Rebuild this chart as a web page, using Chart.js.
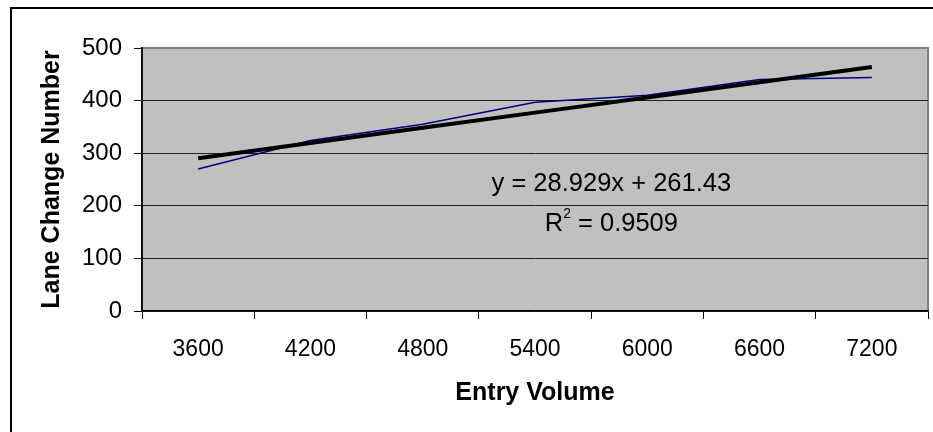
<!DOCTYPE html>
<html>
<head>
<meta charset="utf-8">
<title>Lane Change Number vs Entry Volume</title>
<script src="https://cdn.jsdelivr.net/npm/chart.js@4"></script>
<style>
  html, body { margin: 0; padding: 0; background: #fff; }
  #wrap { position: relative; width: 933px; height: 432px; }
</style>
</head>
<body>
<div id="wrap"><canvas id="laneChart"></canvas></div>
<script>
// ── data ──────────────────────────────────────────────
const entryVolumes = ["3600", "4200", "4800", "5400", "6000", "6600", "7200"];
const laneChanges  = [270, 324, 355, 397, 410, 440, 444];
// linear trendline, as shown by the equation label
const trendValues  = [290.36, 319.29, 348.22, 377.15, 406.08, 435.01, 463.93];
const equationText = "y = 28.929x + 261.43";
const rSquaredText = "0.9509";

const FONT = "'Liberation Sans', Arial, sans-serif";

// grey plot area + outer frame, Excel style
const plotFrame = {
  id: "plotFrame",
  beforeDraw(chart) {
    const { ctx, chartArea: a } = chart;
    ctx.save();
    ctx.fillStyle = "#fff";
    ctx.fillRect(0, 0, chart.width, chart.height);
    ctx.strokeStyle = "#000";
    ctx.lineWidth = 2;
    ctx.strokeRect(11, 8, chart.width + 20, chart.height + 20);
    ctx.fillStyle = "#c0c0c0";
    ctx.fillRect(a.left, a.top, a.right - a.left, a.bottom - a.top);
    ctx.strokeStyle = "#808080";
    ctx.lineWidth = 2;
    ctx.beginPath();
    ctx.moveTo(a.left, a.top);
    ctx.lineTo(a.right, a.top);
    ctx.lineTo(a.right, a.bottom);
    ctx.stroke();
    ctx.restore();
  },
};

// trendline equation label
const trendLabel = {
  id: "trendLabel",
  afterDatasetsDraw(chart) {
    const { ctx, scales: { x, y } } = chart;
    const big = `25.5px ${FONT}`;
    const sup = `14px ${FONT}`;
    const cx = x.getPixelForValue(3.68);
    const y1 = y.getPixelForValue(241);
    const y2 = y.getPixelForValue(165);
    ctx.save();
    ctx.fillStyle = "#000";
    ctx.textBaseline = "middle";
    ctx.font = big;
    ctx.textAlign = "center";
    ctx.fillText(equationText, cx, y1);

    const rest = " = " + rSquaredText;
    ctx.textAlign = "left";
    const wR = ctx.measureText("R").width;
    const wRest = ctx.measureText(rest).width;
    ctx.font = sup;
    const wSup = ctx.measureText("2").width;
    const sx = cx - (wR + wSup + wRest) / 2;
    ctx.font = big;
    ctx.fillText("R", sx, y2);
    ctx.font = sup;
    ctx.fillText("2", sx + wR, y2 - 10);
    ctx.font = big;
    ctx.fillText(rest, sx + wR + wSup, y2);
    ctx.restore();
  },
};

new Chart(document.getElementById("laneChart").getContext("2d"), {
  type: "line",
  data: {
    labels: entryVolumes,
    datasets: [
      {
        label: "Linear trend",
        data: trendValues,
        borderColor: "#000",
        borderWidth: 4,
        pointRadius: 0,
        tension: 0,
        fill: false,
      },
      {
        label: "Lane Change Number",
        data: laneChanges,
        borderColor: "#000080",
        borderWidth: 1.5,
        pointRadius: 0,
        tension: 0,
        fill: false,
      },
    ],
  },
  options: {
    responsive: true,
    maintainAspectRatio: false,
    animation: false,
    layout: { padding: { top: 48, right: 5, bottom: 0, left: 0 } },
    plugins: {
      legend: { display: false },
      tooltip: { enabled: false },
    },
    scales: {
      x: {
        offset: true,
        afterFit: s => { s.height = 121; },
        border: { color: "#000", width: 1.5 },
        grid: {
          offset: true,
          drawOnChartArea: false,
          drawTicks: true,
          tickLength: 8,
          tickColor: "#000",
        },
        ticks: {
          color: "#000",
          padding: 17,
          maxRotation: 0,
          font: { family: FONT, size: 23 },
        },
        title: {
          display: true,
          text: "Entry Volume",
          color: "#000",
          padding: { top: 0, bottom: 24 },
          font: { family: FONT, size: 25, weight: "bold" },
        },
      },
      y: {
        min: 0,
        max: 500,
        afterFit: s => { s.width = 142; },
        border: { color: "#111", width: 2 },
        grid: {
          color: c => (c.tick && c.tick.value === 500 ? "#808080" : "#222"),
          lineWidth: 1,
          tickLength: 8,
          tickColor: "#000",
        },
        ticks: {
          stepSize: 100,
          color: "#000",
          padding: 12,
          font: { family: FONT, size: 24 },
        },
        title: {
          display: true,
          text: "Lane Change Number",
          color: "#000",
          padding: { top: 37, bottom: 0 },
          font: { family: FONT, size: 25, weight: "bold" },
        },
      },
    },
  },
  plugins: [plotFrame, trendLabel],
});
</script>
</body>
</html>
